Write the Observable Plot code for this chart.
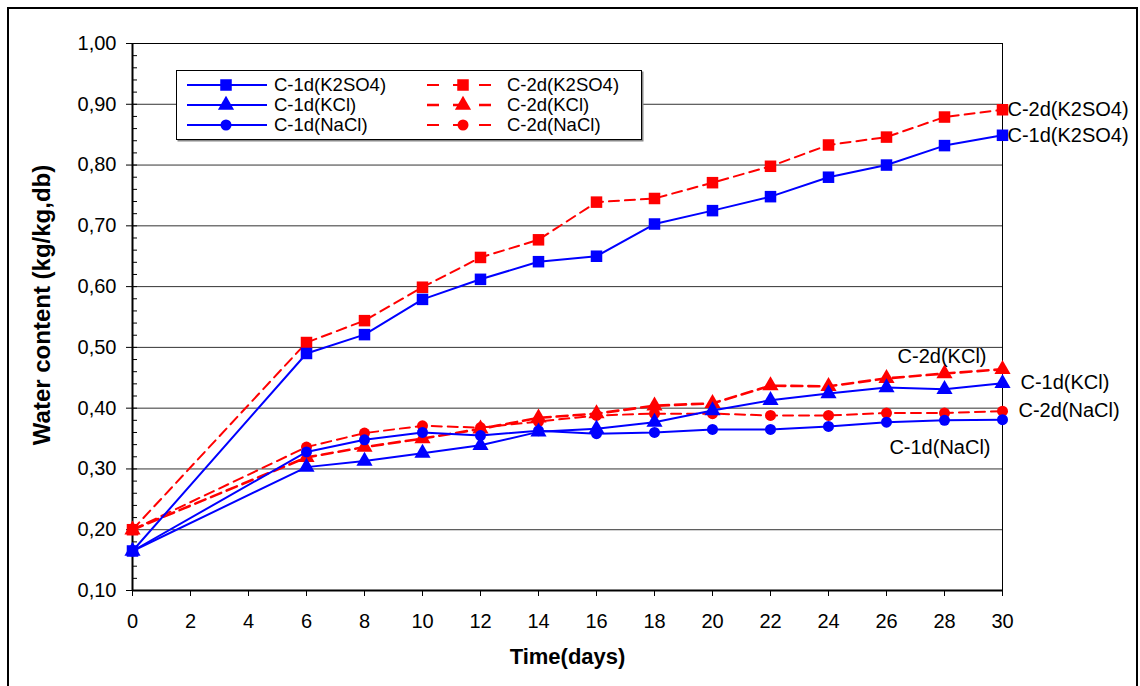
<!DOCTYPE html>
<html>
<head>
<meta charset="utf-8">
<script src="https://cdn.jsdelivr.net/npm/d3@7"></script>
<script src="https://cdn.jsdelivr.net/npm/@observablehq/plot@0.6"></script>
<style>
  html, body { margin: 0; padding: 0; background: #fff; }
  #wrap { position: relative; width: 1140px; height: 686px; overflow: hidden; font-family: "Liberation Sans", Arial, sans-serif; }
  #border { position: absolute; left: 7px; top: 7px; width: 1131px; height: 700px; border: 2px solid #000; box-sizing: border-box; pointer-events: none; }
  #legend { position: absolute; left: 0; top: 0; pointer-events: none; }
</style>
</head>
<body>
<div id="wrap"><div id="border"></div></div>
<script>
// ---- data ----
const days = [0, 6, 8, 10, 12, 14, 16, 18, 20, 22, 24, 26, 28, 30];
const c1_K2SO4 = [0.165, 0.490, 0.521, 0.579, 0.612, 0.641, 0.650, 0.703, 0.725, 0.748, 0.780, 0.800, 0.832, 0.849];
const c2_K2SO4 = [0.200, 0.508, 0.544, 0.599, 0.648, 0.677, 0.739, 0.745, 0.771, 0.798, 0.833, 0.846, 0.879, 0.891];
const c1_KCl   = [0.165, 0.303, 0.313, 0.326, 0.339, 0.361, 0.366, 0.377, 0.396, 0.413, 0.424, 0.434, 0.431, 0.441];
const c2_KCl   = [0.200, 0.319, 0.336, 0.350, 0.366, 0.384, 0.391, 0.404, 0.408, 0.437, 0.436, 0.449, 0.457, 0.464];
const c1_NaCl  = [0.165, 0.328, 0.348, 0.360, 0.355, 0.363, 0.358, 0.360, 0.365, 0.365, 0.370, 0.377, 0.380, 0.381];
const c2_NaCl  = [0.200, 0.336, 0.359, 0.371, 0.368, 0.378, 0.388, 0.391, 0.391, 0.388, 0.388, 0.392, 0.392, 0.395];
const seriesNames = ["C-1d(K2SO4)", "C-2d(K2SO4)", "C-1d(KCl)", "C-2d(KCl)", "C-1d(NaCl)", "C-2d(NaCl)"];
const seriesValues = [c1_K2SO4, c2_K2SO4, c1_KCl, c2_KCl, c1_NaCl, c2_NaCl];
const yTicks = [0.1, 0.2, 0.3, 0.4, 0.5, 0.6, 0.7, 0.8, 0.9, 1.0];
const yMinorTicks = d3.range(10, 101, 2).map(v => v / 100);
const xTicks = [0, 2, 4, 6, 8, 10, 12, 14, 16, 18, 20, 22, 24, 26, 28, 30];
const xTitle = "Time(days)";
const yTitle = "Water content (kg/kg,db)";

// ---- styles ----
const style = {
  "C-1d(K2SO4)": {color: "#0000ff", dash: null, sym: "square", r: 6.5, w: 2},
  "C-2d(K2SO4)": {color: "#ff0000", dash: "10,6", sym: "square", r: 6.5, w: 2},
  "C-1d(KCl)":   {color: "#0000ff", dash: null, sym: "triangle", r: 6, w: 2},
  "C-2d(KCl)":   {color: "#ff0000", dash: "11,6", sym: "triangle", r: 6, w: 2.6},
  "C-1d(NaCl)":  {color: "#0000ff", dash: null, sym: "circle", r: 5.5, w: 2},
  "C-2d(NaCl)":  {color: "#ff0000", dash: "10,6", sym: "circle", r: 5.5, w: 2}
};
// end-label offsets (px)
const labelPos = {
  "C-2d(K2SO4)": {dx: 5, dy: 0, anchor: "start"},
  "C-1d(K2SO4)": {dx: 5, dy: 0, anchor: "start"},
  "C-2d(KCl)":   {dx: -16, dy: -13, anchor: "end"},
  "C-1d(KCl)":   {dx: 18, dy: -1, anchor: "start"},
  "C-2d(NaCl)":  {dx: 16, dy: -1, anchor: "start"},
  "C-1d(NaCl)":  {dx: -12, dy: 28, anchor: "end"}
};

const rows = [];
seriesNames.forEach((name, i) => days.forEach((d, j) => rows.push({series: name, day: d, value: seriesValues[i][j]})));
const bySeries = name => rows.filter(r => r.series === name);
const lastOf = name => bySeries(name).slice(-1);

const fmt = d => d3.format(".2f")(d).replace(".", ",");
const drawOrder = ["C-2d(K2SO4)", "C-2d(KCl)", "C-2d(NaCl)", "C-1d(K2SO4)", "C-1d(KCl)", "C-1d(NaCl)"];

const marks = [
  Plot.ruleY(yTicks, {stroke: "#333", strokeWidth: 1}),
  Plot.frame({stroke: "#000", strokeWidth: 1}),
  Plot.axisY({ticks: yMinorTicks, tickSize: 5, dx: 5, tickFormat: () => "", label: null}),
  Plot.axisY({ticks: yTicks, tickSize: 6, tickPadding: 10, tickFormat: fmt, fontSize: 20, label: null}),
  Plot.axisX({ticks: xTicks, tickSize: 6, tickPadding: 17, fontSize: 20, tickFormat: d => String(d), label: null}),
  Plot.ruleX([0], {stroke: "#000", strokeWidth: 2}),
  Plot.ruleY([0.1], {stroke: "#000", strokeWidth: 2}),
];
for (const name of drawOrder) {
  const s = style[name];
  marks.push(Plot.line(bySeries(name), {x: "day", y: "value", stroke: s.color, strokeWidth: s.w, strokeDasharray: s.dash}));
}
for (const name of drawOrder) {
  const s = style[name];
  marks.push(Plot.dot(bySeries(name), {x: "day", y: "value", symbol: s.sym, fill: s.color, stroke: "none", r: s.r}));
}
for (const name of seriesNames) {
  const p = labelPos[name];
  marks.push(Plot.text(lastOf(name), {x: "day", y: "value", text: () => name, dx: p.dx, dy: p.dy, textAnchor: p.anchor, fontSize: 20, fill: "#000"}));
}
marks.push(Plot.text([xTitle], {frameAnchor: "bottom", dy: 73, textAnchor: "middle", text: d => d, fontSize: 22, fontWeight: "bold", fill: "#000"}));
marks.push(Plot.text([yTitle], {frameAnchor: "left", dx: -90, dy: -12, textAnchor: "middle", rotate: -90, text: d => d, fontSize: 24, fontWeight: "bold", fill: "#000"}));

const chart = Plot.plot({
  width: 1140,
  height: 686,
  marginLeft: 132,
  marginRight: 138,
  marginTop: 43,
  marginBottom: 96,
  style: {fontFamily: "'Liberation Sans', Arial, sans-serif", color: "#000", background: "#fff", overflow: "visible"},
  x: {domain: [0, 30], axis: null},
  y: {domain: [0.1, 1.0], axis: null},
  marks
});
const wrap = document.getElementById("wrap");
wrap.insertBefore(chart, wrap.firstChild);

// ---- legend ----
const legendCols = [["C-1d(K2SO4)", "C-1d(KCl)", "C-1d(NaCl)"], ["C-2d(K2SO4)", "C-2d(KCl)", "C-2d(NaCl)"]];
const lg = d3.create("svg").attr("id", "legend").attr("width", 1140).attr("height", 686);
lg.append("rect").attr("x", 177.5).attr("y", 71.5).attr("width", 466).attr("height", 70).attr("fill", "#888");
lg.append("rect").attr("x", 176.5).attr("y", 70.5).attr("width", 465).attr("height", 69).attr("fill", "#fff").attr("stroke", "#000");
const colX = [{l0: 187, l1: 267, m: 226, t: 274}, {l0: 427, l1: 505, m: 463, t: 507}];
const rowY = [85, 105, 125];
legendCols.forEach((col, ci) => col.forEach((name, ri) => {
  const s = style[name], c = colX[ci], y = rowY[ri];
  lg.append("line").attr("x1", c.l0).attr("x2", c.l1).attr("y1", y).attr("y2", y)
    .attr("stroke", s.color).attr("stroke-width", s.w).attr("stroke-dasharray", s.dash ? "12,14" : null);
  const sym = d3.symbol().type(s.sym === "square" ? d3.symbolSquare : s.sym === "triangle" ? d3.symbolTriangle : d3.symbolCircle)
    .size(Math.PI * s.r * s.r);
  lg.append("path").attr("d", sym()).attr("transform", `translate(${c.m},${y})`).attr("fill", s.color);
  lg.append("text").attr("x", c.t).attr("y", y).attr("dy", "0.35em").attr("font-size", 18.5)
    .attr("font-family", "'Liberation Sans', Arial, sans-serif").text(name);
}));
wrap.appendChild(lg.node());
</script>
</body>
</html>
